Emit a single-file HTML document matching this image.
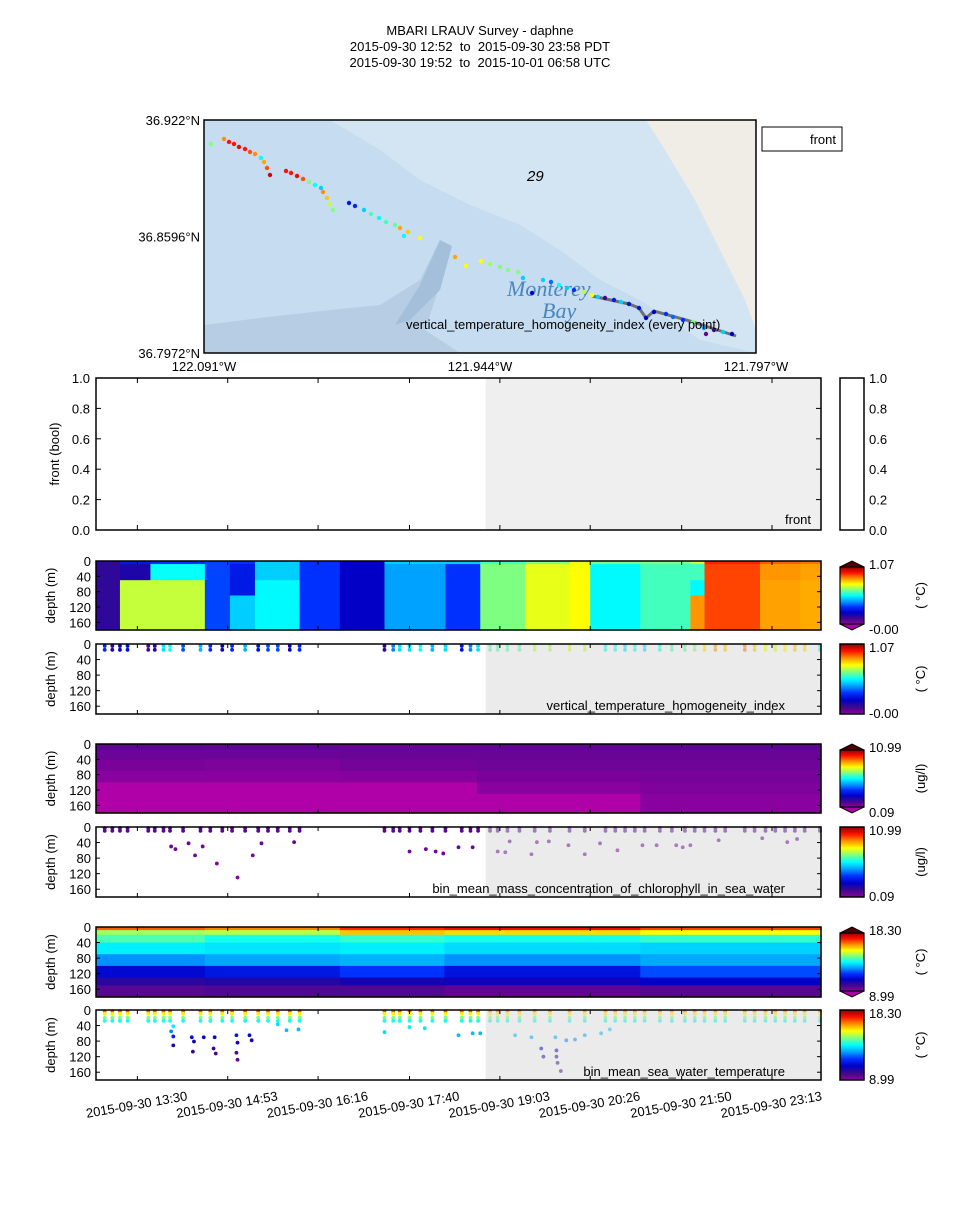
<!DOCTYPE html>
<html><head><meta charset="utf-8"><style>
body{margin:0;background:#fff}
svg text{font-family:"Liberation Sans",sans-serif;fill:#000}
</style></head><body>
<svg id="s" width="960" height="1200" viewBox="0 0 960 1200" xmlns="http://www.w3.org/2000/svg">
<defs>
<linearGradient id="cmap" x1="0" y1="1" x2="0" y2="0">
<stop offset="0" stop-color="#8e00a0"/><stop offset="0.1" stop-color="#3c0a8c"/><stop offset="0.2" stop-color="#0000c8"/><stop offset="0.3" stop-color="#0030ff"/><stop offset="0.4" stop-color="#00a0ff"/><stop offset="0.5" stop-color="#00ffff"/><stop offset="0.6" stop-color="#80ff80"/><stop offset="0.7" stop-color="#ffff00"/><stop offset="0.8" stop-color="#ff9000"/><stop offset="0.9" stop-color="#ff1000"/><stop offset="1" stop-color="#900000"/>
</linearGradient>
</defs>
<g font-size="13" text-anchor="middle" style="white-space:pre">
<text x="480" y="35">MBARI LRAUV Survey - daphne</text>
<text x="480" y="51" xml:space="preserve">2015-09-30 12:52  to  2015-09-30 23:58 PDT</text>
<text x="480" y="67" xml:space="preserve">2015-09-30 19:52  to  2015-10-01 06:58 UTC</text>
</g>
<g id="map"></g>
<g id="front"></g>
<g id="panels"></g>
<g id="xaxis"></g>
</svg>
<script>
// ---------- DATA ----------
const timeTickMinutes=[38,121,204,288,371,454,538,621];
const timeTickLabels=["2015-09-30 13:30","2015-09-30 14:53","2015-09-30 16:16","2015-09-30 17:40","2015-09-30 19:03","2015-09-30 20:26","2015-09-30 21:50","2015-09-30 23:13"];
const depthTicks=[0,40,80,120,160];
const frontTicks=[0,0.2,0.4,0.6,0.8,1.0];
const frontStartMinute=358;

// vertical temperature homogeneity contour
const homogColStarts=[0,22,50,100,123,146,187,224,265,321,353,394,435,454,500,546,559,610,647];
const homogDepthEdges=[0,8,50,90,130,180];
const homogGrid=[
[0.13,0.13,0.13,0.13,0.13],[0.27,0.16,0.70,0.70,0.70],[0.32,0.54,0.70,0.70,0.70],[0.34,0.34,0.34,0.34,0.34],
[0.32,0.27,0.27,0.48,0.48],[0.48,0.48,0.53,0.53,0.53],[0.32,0.32,0.32,0.32,0.32],[0.21,0.21,0.21,0.21,0.21],
[0.48,0.43,0.43,0.43,0.43],[0.48,0.32,0.32,0.32,0.32],[0.59,0.64,0.64,0.64,0.64],[0.64,0.73,0.73,0.73,0.73],
[0.73,0.75,0.75,0.75,0.75],[0.64,0.53,0.53,0.53,0.53],[0.64,0.59,0.59,0.59,0.59],[0.70,0.59,0.53,0.85,0.85],
[0.95,0.92,0.92,0.92,0.92],[0.90,0.85,0.84,0.84,0.84],[0.88,0.84,0.83,0.83,0.83]];
// homogeneity scatter (two rows per time)
const homogTimes=[8,15,22,29,48,54,62,68,80,96,105,116,125,137,149,158,167,178,187,265,273,279,288,298,309,321,336,344,351,362,369,378,389,403,417,435,449,468,477,486,495,504,518,529,541,550,559,569,578,596,605,615,624,633,642,651,665];
const homogVals=[0.3,0.15,0.2,0.25,0.1,0.15,0.5,0.55,0.35,0.45,0.3,0.2,0.3,0.45,0.25,0.35,0.35,0.2,0.3,0.15,0.4,0.5,0.5,0.55,0.45,0.5,0.25,0.4,0.5,0.6,0.6,0.6,0.6,0.7,0.68,0.72,0.7,0.55,0.55,0.5,0.55,0.5,0.55,0.6,0.62,0.65,0.78,0.85,0.8,0.88,0.8,0.75,0.72,0.75,0.8,0.78,0.55];
const homogRowDepths=[5,15];

// chlorophyll contour
const chlColStarts=[0,100,224,350,500];
const chlDepthEdges=[0,15,40,70,100,130,180];
const chlGrid=[[0.75,0.55,0.35,0.15,-0.5,-0.5],[0.7,0.55,0.3,0.15,-0.5,-0.5],[0.65,0.6,0.45,0.2,-0.5,-0.5],[0.7,0.6,0.5,0.35,0.15,-0.5],[0.75,0.6,0.5,0.4,0.3,0.15]];
// chlorophyll scatter: surface rows + deeper points
const chlSurfDepths=[3,10];
const chlSurfVals=[0.9,0.8];
const chlDeepTimes=[69,73,91,111,130,144,85,98,152,182,288,303,312,319,333,346,369,376,400,449,434,479,463,502,515,533,539,546,572,612,635,644,380,405,416];
const chlDeepDepths=[50,57,73,94,130,73,42,50,42,39,63,57,63,68,52,52,63,65,70,70,47,60,42,47,47,47,52,47,34,29,39,31,37,39,37];
const chlDeepVals=[0.5,0.45,0.35,0.3,0.2,0.35,0.6,0.5,0.6,0.6,0.5,0.5,0.45,0.45,0.5,0.5,0.5,0.45,0.45,0.45,0.5,0.45,0.5,0.5,0.5,0.5,0.45,0.5,0.55,0.55,0.5,0.55,0.55,0.5,0.5];

// temperature contour
const tempColStarts=[0,100,224,320,500];
const tempDepthEdges=[0,8,20,40,70,100,130,150,180];
const tempGrid=[[16.8,14.8,14.2,13.5,12.6,11.0,10.2,9.6],[16.5,15.0,13.8,13.4,12.8,11.3,10.3,9.7],[17.2,16.0,14.0,13.5,12.9,11.8,10.5,9.7],[17.5,15.8,13.8,13.3,12.6,11.2,10.6,9.5],[17.0,15.5,14.0,13.2,12.8,12.0,10.8,9.6]];
// temperature scatter
const tempSurfDepths=[3,10,20,28];
const tempSurfVals=[16.8,15.6,14.6,13.8];
const tempDeepTimes=[69,71,71,88,90,89,99,109,108,110,129,130,129,130,141,143,71,167,175,186,265,288,302,333,346,353,385,400,422,432,440,449,464,472,409,411,423,423,424,427];
const tempDeepDepths=[55,68,91,70,81,107,70,70,99,112,65,84,110,128,65,78,42,37,52,50,57,44,47,65,60,60,65,70,70,78,76,65,60,50,99,120,104,120,136,157];
const tempDeepVals=[12.5,11.5,10.3,11,10.6,10,11,11,10,9.8,11.3,10.5,9.8,9.5,11,10.5,13.5,13.3,13,13,13.3,13.5,13.4,13,13,13,13,12.8,12.8,12.5,12.6,12.8,13,13.2,10.8,10.5,10.5,10.3,9.8,9.5];

// map track (basemap tile coordinates, 552x233 tile)
const trackX=[7,20,25,30,35,41,46,51,57,60,63,66,82,87,93,99,105,111,117,119,123,126,129,145,151,160,167,175,182,191,196,204,200,216,251,262,277,286,296,304,314,319,328,339,347,355,363,370,380,388,394,401,410,417,425,435,442,450,462,469,479,489,500,502,510,519,528];
const trackY=[24,19,22,24,27,29,32,34,38,42,48,55,51,53,56,59,62,65,68,72,78,84,90,83,86,90,94,98,102,105,108,112,116,118,137,146,141,144,147,150,152,158,173,160,162,165,168,170,172,175,177,178,180,182,184,188,198,192,194,197,200,202,208,214,210,212,214];
const trackVals=[0.6,0.8,0.9,0.9,0.92,0.9,0.85,0.8,0.5,0.78,0.85,0.95,0.9,0.9,0.92,0.85,0.6,0.5,0.45,0.8,0.75,0.65,0.6,0.25,0.28,0.45,0.55,0.5,0.55,0.58,0.78,0.75,0.5,0.7,0.78,0.7,0.7,0.62,0.6,0.6,0.6,0.45,0.2,0.45,0.35,0.5,0.45,0.3,0.65,0.7,0.45,0.1,0.25,0.45,0.25,0.25,0.2,0.2,0.3,0.35,0.3,0.6,0.4,0.05,0.1,0.45,0.2];
const trackLineX=[388,425,435,442,450,486,532];
const trackLineY=[176,184,188,198,191,201,216];
const latLabels=["36.922°N","36.8596°N","36.7972°N"];
const lonLabels=["122.091°W","121.944°W","121.797°W"];

// ---------- HELPERS ----------
const NS="http://www.w3.org/2000/svg";
const svg=document.getElementById('s');
function el(tag,attrs,parent,txt){const e=document.createElementNS(NS,tag);for(const k in attrs)e.setAttribute(k,attrs[k]);if(txt!==undefined)e.textContent=txt;(parent||svg).appendChild(e);return e;}
const stops=[[0,[142,0,160]],[0.1,[60,10,140]],[0.2,[0,0,200]],[0.3,[0,48,255]],[0.4,[0,160,255]],[0.5,[0,255,255]],[0.6,[128,255,128]],[0.7,[255,255,0]],[0.8,[255,144,0]],[0.9,[255,16,0]],[1,[144,0,0]]];
function cmap(t){if(t<0)return'rgb(176,0,168)';if(t>1)return'rgb(80,0,0)';for(let i=1;i<stops.length;i++){if(t<=stops[i][0]){const a=stops[i-1],b=stops[i];const f=(t-a[0])/(b[0]-a[0]);const c=a[1].map((v,j)=>Math.round(v+(b[1][j]-v)*f));return`rgb(${c[0]},${c[1]},${c[2]})`;}}return'rgb(144,0,0)';}
const X0=96,X1=821,TMAX=666;
const xT=m=>X0+m*(X1-X0)/TMAX;
const DMAX=180;
function yD(top,h){return d=>top+d*h/DMAX;}
const gShadeX=xT(frontStartMinute);

// ---------- MAP ----------
(function(){
const g=document.getElementById('map');
const mx=204,my=120,mw=552,mh=233;
const mX=v=>mx+v*mw/552, mY=v=>my+v*mh/233;
const clip=el('clipPath',{id:'mapclip'},g);el('rect',{x:mx,y:my,width:mw,height:mh},clip);
const bg=el('g',{'clip-path':'url(#mapclip)'},g);
el('rect',{x:mx,y:my,width:mw,height:mh,fill:'#c6dcf0'},bg);
const shelf=el('polygon',{points:'330,120 646,120 700,200 740,290 756,320 756,353 700,340 640,300 600,280 560,250 520,225 470,205 420,180 380,150',fill:'#d3e4f3'},bg);

const land=el('polygon',{points:'646,120 756,120 756,330 745,300 720,250 695,200 665,150',fill:'#efede6'},bg);

el('polygon',{points:'204,325 260,318 330,310 380,305 420,280 440,240 450,250 435,300 425,330 460,353 204,353',fill:'#b6cde4'},bg);
el('polygon',{points:'440,240 452,246 440,290 410,320 395,325 420,285',fill:'#a3bfda'},bg);
el('text',{x:527,y:181,'font-size':'15','font-style':'italic',fill:'#777'},bg,'29');
el('text',{x:507,y:296,'font-size':'22','font-style':'italic',style:'fill:#4a86c0;font-family:"Liberation Serif",serif'},bg,'Monterey');
el('text',{x:542,y:318,'font-size':'22','font-style':'italic',style:'fill:#4a86c0;font-family:"Liberation Serif",serif'},bg,'Bay');
const pts=trackLineX.map((v,i)=>mX(v)+','+mY(trackLineY[i])).join(' ');
const line=el('polyline',{points:pts,fill:'none',stroke:'#555',"stroke-width":3,opacity:0.8},bg);

trackX.forEach((v,i)=>{const c=el('circle',{cx:mX(v),cy:mY(trackY[i]),r:2.2,fill:cmap(trackVals[i])},bg);

});
el('text',{x:406,y:329,'font-size':'13'},g,'vertical_temperature_homogeneity_index (every point)');
el('rect',{x:mx,y:my,width:mw,height:mh,fill:'none',stroke:'#000','stroke-width':1.5},g);
latLabels.forEach((t,i)=>el('text',{x:200,y:my+i*mh/2+5,'font-size':'13','text-anchor':'end'},g,t));
lonLabels.forEach((t,i)=>el('text',{x:mx+i*mw/2,y:371,'font-size':'13','text-anchor':'middle'},g,t));
const lg=el('g',{},g);
el('rect',{x:762,y:127,width:80,height:24,fill:'#fff',stroke:'#000'},lg);
el('text',{x:836,y:144,'font-size':'13','text-anchor':'end'},lg,'front');
})();

// ---------- FRONT PANEL ----------
(function(){
const g=document.getElementById('front');
const top=378,h=152;
const yF=v=>top+h-v*h;
el('rect',{x:gShadeX,y:top,width:X1-gShadeX,height:h,fill:'#efefef'},g);
el('text',{x:785,y:524,'font-size':'13'},g,'front');
el('rect',{x:X0,y:top,width:X1-X0,height:h,fill:'none',stroke:'#000','stroke-width':1.5},g);
frontTicks.forEach(v=>{el('line',{x1:X0,x2:X0+5,y1:yF(v),y2:yF(v),stroke:'#000'},g);el('line',{x1:X1,x2:X1-5,y1:yF(v),y2:yF(v),stroke:'#000'},g);
el('text',{x:90,y:yF(v)+5,'font-size':'13','text-anchor':'end'},g,v.toFixed(1));
el('text',{x:869,y:yF(v)+5,'font-size':'13'},g,v.toFixed(1));});
timeTickMinutes.forEach(m=>{el('line',{x1:xT(m),x2:xT(m),y1:top+h,y2:top+h-5,stroke:'#000'},g);el('line',{x1:xT(m),x2:xT(m),y1:top,y2:top+5,stroke:'#000'},g);});
el('rect',{x:840,y:top,width:24,height:h,fill:'#fff',stroke:'#000','stroke-width':1.5},g);
el('text',{x:0,y:0,'font-size':'13','text-anchor':'middle',transform:`translate(59,${top+h/2}) rotate(-90)`},g,'front (bool)');
})();

// ---------- DEPTH PANELS ----------
const P=document.getElementById('panels');
function colorbar(g,top,h,extend,vmin,vmax,unit){
 const cb=el('g',{},g);
 
 
 const x=840,w=24;
 if(extend){
  el('polygon',{points:`${x},${top+6} ${x+w/2},${top} ${x+w},${top+6}`,fill:'#500000',stroke:'#000'},cb);
  el('polygon',{points:`${x},${top+h-6} ${x+w/2},${top+h} ${x+w},${top+h-6}`,fill:'#b000a8',stroke:'#000'},cb);
  el('rect',{x:x,y:top+6,width:w,height:h-12,fill:'url(#cmap)',stroke:'#000','stroke-width':1.2},cb);
 } else el('rect',{x:x,y:top,width:w,height:h,fill:'url(#cmap)',stroke:'#000','stroke-width':1.5},cb);
 el('text',{x:869,y:top+8,'font-size':'13'},cb,vmax);
 el('text',{x:869,y:top+h+4,'font-size':'13'},cb,vmin);
 el('text',{x:0,y:0,'font-size':'13','text-anchor':'middle',transform:`translate(925,${top+h/2}) rotate(-90)`},cb,unit);
}
function frame(g,top,h,label){
 const yd=yD(top,h);
 el('rect',{x:X0,y:top,width:X1-X0,height:h,fill:'none',stroke:'#000','stroke-width':1.5},g);
 depthTicks.forEach(d=>{el('line',{x1:X0,x2:X0+4,y1:yd(d),y2:yd(d),stroke:'#000'},g);el('line',{x1:X1,x2:X1-4,y1:yd(d),y2:yd(d),stroke:'#000'},g);
  el('text',{x:91,y:yd(d)+5,'font-size':'13','text-anchor':'end'},g,String(d));});
 timeTickMinutes.forEach(m=>{el('line',{x1:xT(m),x2:xT(m),y1:top+h,y2:top+h-4,stroke:'#000'},g);el('line',{x1:xT(m),x2:xT(m),y1:top,y2:top+4,stroke:'#000'},g);});
 el('text',{x:0,y:0,'font-size':'13','text-anchor':'middle',transform:`translate(55,${top+h/2}) rotate(-90)`},g,'depth (m)');
 if(label)el('text',{x:785,y:top+h-4,'font-size':'13','text-anchor':'end'},g,label);
}
function contour(name,top,h,starts,edges,grid,vmin,vmax,unit,lbl){
 const g=el('g',{},P);
 
 
 const yd=yD(top,h);
 starts.forEach((s,i)=>{const e=i+1<starts.length?starts[i+1]:TMAX;
  grid[i].forEach((v,j)=>{const r=el('rect',{x:xT(s),y:yd(edges[j]),width:xT(e)-xT(s)+0.6,height:yd(edges[j+1])-yd(edges[j])+0.6,fill:cmap((v-vmin)/(vmax-vmin))},g);
   
   });});
 frame(g,top,h,null);
 colorbar(g,top,h,true,lbl[0],lbl[1],unit);
}
function scatter(name,top,h,times,depths,vals,vmin,vmax,label,unit,lbl){
 const g=el('g',{},P);
 
 
 const yd=yD(top,h);
 times.forEach((t,i)=>{const c=el('circle',{cx:xT(t),cy:yd(depths[i]),r:1.9,fill:cmap((vals[i]-vmin)/(vmax-vmin))},g);
  
  });
 el('rect',{x:gShadeX,y:top,width:X1-gShadeX,height:h,fill:'#dadada',opacity:0.55},g);
 frame(g,top,h,label);
 colorbar(g,top,h,false,lbl[0],lbl[1],unit);
}
const degC='( °C)';
contour('homogeneity-contour',561,69,homogColStarts,homogDepthEdges,homogGrid,0,1.07,degC,['-0.00','1.07']);
{const t=[],d=[],v=[];homogRowDepths.forEach(dp=>homogTimes.forEach((tm,i)=>{t.push(tm);d.push(dp);v.push(homogVals[i]);}));
scatter('homogeneity-scatter',644,70,t,d,v,0,1.07,'vertical_temperature_homogeneity_index',degC,['-0.00','1.07']);}
contour('chlorophyll-contour',744,69,chlColStarts,chlDepthEdges,chlGrid,0.09,10.99,'(ug/l)',['0.09','10.99']);
{const t=[],d=[],v=[];chlSurfDepths.forEach((dp,k)=>homogTimes.forEach(tm=>{t.push(tm);d.push(dp);v.push(chlSurfVals[k]);}));
chlDeepTimes.forEach((tm,i)=>{t.push(tm);d.push(chlDeepDepths[i]);v.push(chlDeepVals[i]);});
scatter('chlorophyll-scatter',827,70,t,d,v,0.09,10.99,'bin_mean_mass_concentration_of_chlorophyll_in_sea_water','(ug/l)',['0.09','10.99']);}
contour('temperature-contour',927,70,tempColStarts,tempDepthEdges,tempGrid,8.99,18.30,degC,['8.99','18.30']);
{const t=[],d=[],v=[];tempSurfDepths.forEach((dp,k)=>homogTimes.forEach(tm=>{t.push(tm);d.push(dp);v.push(tempSurfVals[k]);}));
tempDeepTimes.forEach((tm,i)=>{t.push(tm);d.push(tempDeepDepths[i]);v.push(tempDeepVals[i]);});
scatter('temperature-scatter',1010,70,t,d,v,8.99,18.30,'bin_mean_sea_water_temperature',degC,['8.99','18.30']);}

// ---------- TIME AXIS ----------
(function(){const g=document.getElementById('xaxis');
timeTickLabels.forEach((lab,i)=>{const x=xT(timeTickMinutes[i]);
 const t=el('text',{x:0,y:0,'font-size':'13','text-anchor':'middle',transform:`translate(${x},${1109}) rotate(-10)`},g,lab);
 
 });})();
</script>
</body></html>
